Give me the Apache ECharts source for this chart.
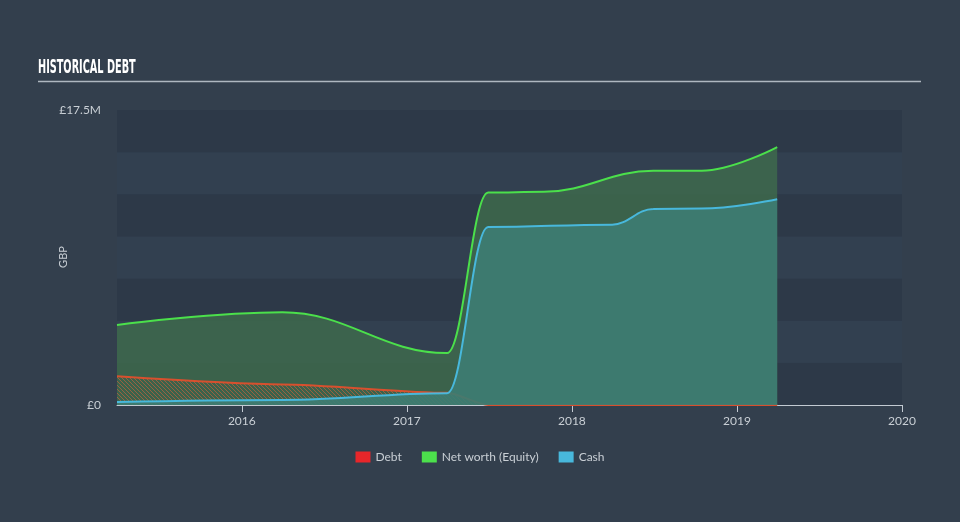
<!DOCTYPE html>
<html>
<head>
<meta charset="utf-8">
<script src="https://cdn.jsdelivr.net/npm/echarts@6/dist/echarts.min.js"></script>
<style>
html,body{margin:0;padding:0;background:#333f4d;}
#c{width:960px;height:522px;}
</style>
</head>
<body>
<div id="c"></div>
<script>
// ---- data (GBP millions) ----
const debtDates     = ['2015-03-31','2016-03-31','2017-03-31','2017-06-30','2019-03-31'];
const debt          = [1.70, 1.22, 0.72, 0, 0];
const netWorthDates = ['2015-03-31','2016-03-31','2017-03-31','2017-06-30','2017-10-31','2018-06-30','2018-10-15','2019-03-31'];
const netWorth      = [4.75, 5.50, 3.08, 12.60, 12.65, 13.90, 13.90, 15.30];
const cashDates     = ['2015-03-31','2016-03-31','2017-03-31','2017-06-30','2018-03-31','2018-06-30','2018-10-15','2019-03-31'];
const cash          = [0.18, 0.30, 0.70, 10.56, 10.70, 11.63, 11.65, 12.20];
const yearTicks = [2016, 2017, 2018, 2019, 2020];
const yMax = 17.5;
const seriesNames = ['Debt', 'Net worth (Equity)', 'Cash'];

function toYear(s){
  const d = new Date(s + 'T00:00:00Z');
  const y = d.getUTCFullYear();
  const start = Date.UTC(y,0,1), end = Date.UTC(y+1,0,1);
  return y + (d.getTime()-start)/(end-start);
}
const pairs = (ds, arr) => arr.map((v,i)=>[toYear(ds[i]), v]);

// hatch pattern for debt
const pc = document.createElement('canvas');
pc.width = 4; pc.height = 4;
const g = pc.getContext('2d');
g.strokeStyle = 'rgba(214,98,58,0.6)';
g.lineWidth = 1;
g.beginPath();
g.moveTo(0,0); g.lineTo(4,4);
g.moveTo(-1,3); g.lineTo(1,5);
g.moveTo(3,-1); g.lineTo(5,1);
g.stroke();

const chart = echarts.init(document.getElementById('c'), null, {renderer:'canvas'});
const txt = '#c9cfd5';
chart.setOption({
  backgroundColor: '#333f4d',
  animation: false,
  textStyle: {fontFamily: 'Lato, "Open Sans", sans-serif'},
  graphic: [
    {type:'text', left: 38, top: 58, scaleX: 0.54,
     style:{text:'HISTORICAL DEBT', fill:'#ffffff', font:'bold 20px "Liberation Sans Narrow", "DejaVu Sans Condensed", sans-serif'}},
    {type:'line', shape:{x1:38, y1:81.5, x2:921, y2:81.5}, style:{stroke:'#aeb7c0', lineWidth:1.5}},
    {type:'text', x: 63, y: 257, rotation: Math.PI/2, originX: 0, originY: 0,
     style:{text:'GBP', fill:txt, font:'11px Lato, sans-serif', align:'center', verticalAlign:'middle'}}
  ],
  grid: {left:117, right:58, top:110, bottom:117, containLabel:false},
  legend: {
    bottom: 54, left: 'center',
    itemWidth: 15, itemHeight: 11, itemGap: 20,
    icon: 'rect',
    textStyle: {color: txt, fontSize: 12, fontFamily: 'Lato, sans-serif'},
    data: [
      {name: seriesNames[0], itemStyle:{color:'#e8262a'}},
      {name: seriesNames[1], itemStyle:{color:'#4ce04c'}},
      {name: seriesNames[2], itemStyle:{color:'#48b8dc'}}
    ]
  },
  xAxis: {
    type: 'value', min: toYear(netWorthDates[0]), max: 2020,
    axisLine: {show:true, lineStyle:{color:'#c3cad2', width:1}},
    axisTick: {show:true, length:7, customValues: yearTicks, lineStyle:{color:'#c3cad2'}},
    axisLabel: {customValues: yearTicks, color: txt, fontSize: 12, margin: 10,
                formatter: v => String(Math.round(v))},
    splitLine: {show:false}
  },
  yAxis: {
    type: 'value', min: 0, max: yMax, interval: 2.5,
    axisLine: {show:false}, axisTick: {show:false},
    axisLabel: {color: txt, fontSize: 12, margin: 16,
                formatter: v => v === 0 ? '£0' : (v === yMax ? '£17.5M' : '')},
    splitLine: {show:false},
    splitArea: {show:true, areaStyle:{color:['#2d3948','#324050']}}
  },
  series: [
    {name: seriesNames[1], type:'line', data: pairs(netWorthDates, netWorth), smooth: 0.4, smoothMonotone:'x',
     symbol:'none', z: 2,
     lineStyle:{color:'#4be04b', width:2},
     itemStyle:{color:'#4ce04c'},
     areaStyle:{color:'rgba(62,106,76,0.85)', opacity:1}},
    {name: seriesNames[2], type:'line', data: pairs(cashDates, cash), smooth: 0.4, smoothMonotone:'x',
     symbol:'none', z: 4,
     lineStyle:{color:'#48b8dc', width:2},
     itemStyle:{color:'#48b8dc'},
     areaStyle:{color:'rgba(62,124,114,0.92)', opacity:1}},
    {name: seriesNames[0], type:'line', data: pairs(debtDates, debt), smooth: 0.25, smoothMonotone:'x',
     symbol:'none', z: 3,
     lineStyle:{color:'#d8502e', width:2},
     itemStyle:{color:'#e8262a'},
     areaStyle:{color:{image: pc, repeat:'repeat'}, opacity:1}}
  ]
});
</script>
</body>
</html>
